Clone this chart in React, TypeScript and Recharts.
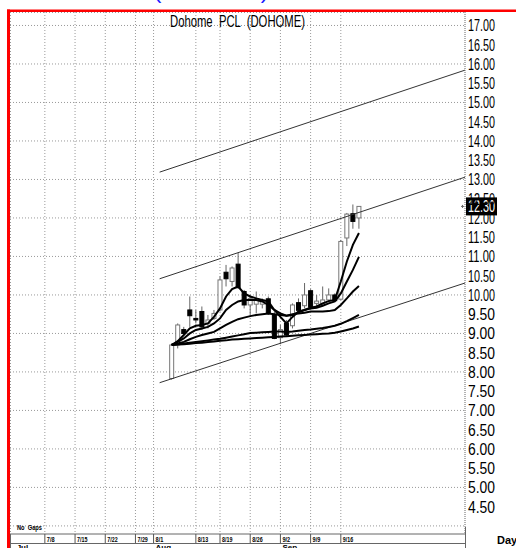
import {
  ComposedChart,
  Bar,
  Line,
  XAxis,
  YAxis,
  CartesianGrid,
  ReferenceLine,
} from "recharts";

// every weekday slot shown on the time axis (8/12 was a market holiday)
const sessions = [
  "7/1", "7/2", "7/3", "7/4", "7/5", "7/8", "7/9", "7/10", "7/11", "7/12",
  "7/15", "7/16", "7/17", "7/18", "7/19", "7/22", "7/23", "7/24", "7/25", "7/26",
  "7/29", "7/30", "7/31", "8/1", "8/2", "8/5", "8/6", "8/7", "8/8", "8/9",
  "8/13", "8/14", "8/15", "8/16", "8/19", "8/20", "8/21", "8/22", "8/23", "8/26",
  "8/27", "8/28", "8/29", "8/30", "9/2", "9/3", "9/4", "9/5", "9/6", "9/9",
  "9/10", "9/11", "9/12", "9/13", "9/16", "9/17", "9/18", "9/19",
];

const firstTradeDay = "8/6";

const open = [7.83, 8.7, 9.1, 9.61, 9.39, 9.57, 9.26, 9.39, 9.61, 10.59, 10.35, 10.8, 10.09, 9.74, 9.76, 9.76, 9.9, 9.48, 8.89, 9.26, 9.2, 9.8, 9.72, 10.11, 9.78, 9.78, 9.87, 10.0, 9.89, 11.48, 12.11, 12.0];
const close = [8.7, 9.22, 9.0, 9.46, 9.35, 9.17, 9.35, 9.52, 10.39, 10.42, 10.7, 10.19, 9.74, 9.91, 9.87, 9.84, 9.52, 8.87, 9.1, 8.96, 9.74, 9.6, 10.0, 9.68, 9.84, 9.87, 10.0, 9.85, 11.39, 12.1, 11.91, 12.3];
const high = [8.74, 9.26, 9.17, 9.96, 9.61, 9.7, 9.48, 9.61, 10.48, 10.78, 10.74, 11.09, 10.13, 10.0, 10.09, 9.91, 9.96, 9.57, 9.22, 9.35, 9.78, 9.91, 10.31, 10.15, 10.0, 10.22, 10.17, 10.04, 11.43, 12.13, 12.35, 12.3];
const low = [7.8, 8.61, 8.96, 9.17, 9.26, 9.09, 9.13, 9.35, 9.57, 10.22, 10.22, 10.16, 9.65, 9.48, 9.52, 9.65, 9.48, 8.85, 8.72, 8.91, 9.13, 9.52, 9.65, 9.65, 9.7, 9.74, 9.83, 9.83, 9.87, 11.27, 11.72, 11.72];

// moving averages, fastest to slowest
const maA = [8.7, 8.8, 8.96, 9.13, 9.2, 9.22, 9.26, 9.43, 9.65, 9.96, 10.15, 10.22, 10.04, 9.96, 9.91, 9.87, 9.83, 9.61, 9.43, 9.26, 9.43, 9.57, 9.61, 9.67, 9.7, 9.78, 9.84, 9.87, 10.35, 10.87, 11.3, 11.61];
const maB = [8.7, 8.78, 8.87, 9.0, 9.09, 9.13, 9.17, 9.26, 9.39, 9.61, 9.74, 9.83, 9.87, 9.87, 9.87, 9.83, 9.74, 9.61, 9.52, 9.46, 9.48, 9.55, 9.61, 9.65, 9.67, 9.72, 9.78, 9.83, 10.04, 10.35, 10.65, 10.99];
const maC = [8.7, 8.74, 8.78, 8.85, 8.91, 8.96, 9.0, 9.04, 9.13, 9.22, 9.3, 9.37, 9.41, 9.45, 9.48, 9.5, 9.52, 9.5, 9.48, 9.46, 9.5, 9.52, 9.54, 9.57, 9.57, 9.57, 9.58, 9.61, 9.74, 9.91, 10.09, 10.23];
const maD = [8.7, 8.72, 8.74, 8.76, 8.78, 8.8, 8.82, 8.84, 8.86, 8.89, 8.92, 8.95, 8.98, 9.01, 9.02, 9.03, 9.04, 9.05, 9.05, 9.04, 9.05, 9.07, 9.09, 9.1, 9.12, 9.14, 9.17, 9.2, 9.25, 9.32, 9.4, 9.48];
const maE = [8.7, 8.71, 8.72, 8.73, 8.75, 8.76, 8.78, 8.79, 8.81, 8.82, 8.84, 8.85, 8.86, 8.87, 8.88, 8.89, 8.9, 8.91, 8.92, 8.93, 8.94, 8.95, 8.96, 8.97, 8.98, 8.99, 9.0, 9.02, 9.05, 9.09, 9.13, 9.18];

// trend channel: value where it starts (8/2) and where it meets the price axis
const channelStart = "8/2";
const channelUpper = [13.19, 15.84];
const channelMiddle = [10.42, 13.06];
const channelLower = [7.72, 10.31];

const dateTicks = ["7/8", "7/15", "7/22", "7/29", "8/1", "8/13", "8/19", "8/26", "9/2", "9/9", "9/16"];
const monthStarts = ["7/1", "8/1", "9/2"];
const monthNames = ["Jul", "Aug", "Sep"];

const priceTicks = [4.5, 5, 5.5, 6, 6.5, 7, 7.5, 8, 8.5, 9, 9.5, 10, 10.5, 11, 11.5, 12, 12.5, 13, 13.5, 14, 14.5, 15, 15.5, 16, 16.5, 17];
const priceGrid = [4, 5, 6, 7, 8, 9, 10, 11, 12, 13, 14, 15, 16, 17];

const X_DOMAIN: [number, number] = [-0.77, 74.56];
const Y_DOMAIN: [number, number] = [3.79, 17.35];

const NARROW = "'Liberation Sans Narrow', 'Arial Narrow', 'Liberation Sans', Arial, sans-serif";

const startIdx = sessions.indexOf(firstTradeDay);
const data = open.map((o, i) => ({
  x: startIdx + i,
  open: o,
  close: close[i],
  high: high[i],
  low: low[i],
  maA: maA[i],
  maB: maB[i],
  maC: maC[i],
  maD: maD[i],
  maE: maE[i],
}));

const dateIdx = dateTicks.map((d) => sessions.indexOf(d));
const monthIdx = monthStarts.map((d) => sessions.indexOf(d));
const xTicks = Array.from(new Set([...monthIdx, ...dateIdx])).sort((a, b) => a - b);

const Candle = (props: any) => {
  const { x, y, width, height, payload } = props;
  const { open: o, close: c, high: h, low: l } = payload;
  const span = h - l || 1;
  const py = (v: number) => y + ((h - v) / span) * height;
  const cx = x + width / 2;
  const up = c >= o;
  const top = py(Math.max(o, c));
  const bot = py(Math.min(o, c));
  return (
    <g>
      <line x1={cx} x2={cx} y1={y} y2={y + height} stroke="#666" strokeWidth={1} />
      <rect
        x={x}
        y={top}
        width={width}
        height={Math.max(1, bot - top)}
        fill={up ? "#fff" : "#000"}
        stroke={up ? "#777" : "#000"}
        strokeWidth={1}
      />
    </g>
  );
};

const PriceTick = ({ x, y, payload }: any) => (
  <text
    x={x}
    y={y + 6}
    fontSize={16}
    fontFamily={NARROW}
    fill="#000"
    textLength={27}
    lengthAdjust="spacingAndGlyphs"
  >
    {Number(payload.value).toFixed(2)}
  </text>
);

const DateTick = ({ x, y, payload }: any) => {
  const v = payload.value;
  const di = dateIdx.indexOf(v);
  const mi = monthIdx.indexOf(v);
  return (
    <g>
      {di >= 0 && (
        <>
          <line x1={x} x2={x} y1={y} y2={y + 9} stroke="#555" />
          <text
            x={x + 2}
            y={y + 7.5}
            fontSize={7.5}
            fontWeight="bold"
            fontFamily={NARROW}
            fill="#000"
            textLength={dateTicks[di].length * 2.6}
            lengthAdjust="spacingAndGlyphs"
          >
            {dateTicks[di]}
          </text>
        </>
      )}
      {mi >= 0 && (
        <text x={x + 2} y={y + 16} fontSize={8} fontWeight="bold" fontFamily={NARROW} fill="#000">
          {monthNames[mi]}
        </text>
      )}
    </g>
  );
};

const PriceFlag = ({ viewBox }: any) => {
  const right = viewBox.x + viewBox.width;
  const cy = viewBox.y;
  return (
    <g>
      <line x1={right - 4} x2={right - 1} y1={cy} y2={cy} stroke="#666" />
      <line x1={right - 2.5} x2={right - 2.5} y1={cy - 1.5} y2={cy + 1.5} stroke="#666" />
      <rect x={right + 1} y={cy - 9} width={31} height={18} fill="#000" />
      <text
        x={right + 3}
        y={cy + 6}
        fontSize={16}
        fontFamily={NARROW}
        fill="#fff"
        textLength={27}
        lengthAdjust="spacingAndGlyphs"
      >
        {close[close.length - 1].toFixed(2)}
      </text>
    </g>
  );
};

const chIdx = sessions.indexOf(channelStart);
const channels = [channelUpper, channelMiddle, channelLower];
const maKeys = ["maA", "maB", "maC", "maD", "maE"];

export default function App() {
  return (
    <div style={{ position: "absolute", left: 0, top: 0, width: 516, height: 548, background: "#fff" }}>
      <ComposedChart
        width={516}
        height={548}
        data={data}
        margin={{ top: 12, right: 0, bottom: 0, left: 10 }}
      >
        <CartesianGrid
          stroke="#999"
          strokeDasharray="1 2"
          horizontalValues={priceGrid}
          verticalValues={dateIdx}
        />
        <XAxis
          dataKey="x"
          type="number"
          domain={X_DOMAIN}
          allowDataOverflow
          ticks={xTicks}
          interval={0}
          tick={<DateTick />}
          tickLine={false}
          tickSize={0}
          tickMargin={0}
          height={14}
          axisLine={{ stroke: "#666" }}
        />
        <YAxis
          orientation="right"
          type="number"
          domain={Y_DOMAIN}
          allowDataOverflow
          ticks={priceTicks}
          interval={0}
          tick={<PriceTick />}
          tickLine={false}
          tickSize={0}
          tickMargin={3}
          width={51}
          axisLine={{ stroke: "#666", strokeDasharray: "1 1" }}
        />
        {channels.map((c, i) => (
          <ReferenceLine
            key={i}
            segment={[
              { x: chIdx, y: c[0] },
              { x: X_DOMAIN[1], y: c[1] },
            ]}
            stroke="#333"
            strokeWidth={1}
          />
        ))}
        <Bar
          dataKey={(d: any) => [d.low, d.high]}
          barSize={4}
          shape={<Candle />}
          isAnimationActive={false}
        />
        {maKeys.map((k) => (
          <Line
            key={k}
            dataKey={k}
            type="linear"
            stroke="#000"
            strokeWidth={2}
            dot={false}
            activeDot={false}
            isAnimationActive={false}
          />
        ))}
        <ReferenceLine y={close[close.length - 1]} stroke="none" label={<PriceFlag />} />
      </ComposedChart>
      <svg
        width={516}
        height={548}
        style={{ position: "absolute", left: 0, top: 0, pointerEvents: "none" }}
      >
        <text
          x={211}
          y={-1.5}
          textAnchor="middle"
          fontSize={20}
          fontFamily="'Liberation Sans', Arial, sans-serif"
          fill="#1a1aff"
          textLength={114}
          lengthAdjust="spacingAndGlyphs"
        >
          (DOHOME)
        </text>
        <rect x={7} y={9.5} width={509} height={2.5} fill="#f00" />
        <rect x={7} y={9.5} width={3} height={539} fill="#f00" />
        <line x1={10} x2={465} y1={12.5} y2={12.5} stroke="#999" strokeDasharray="1 2" />
        <line x1={10.5} x2={10.5} y1={12} y2={534} stroke="#999" strokeDasharray="1 2" />
        <line x1={10.5} x2={10.5} y1={534} y2={548} stroke="#666" />
        <line x1={10} x2={465} y1={543.5} y2={543.5} stroke="#666" />
        <line x1={465.5} x2={465.5} y1={527} y2={548} stroke="#666" />
        <text
          x={170}
          y={27}
          fontSize={17}
          fontFamily={NARROW}
          fill="#000"
          textLength={135}
          lengthAdjust="spacingAndGlyphs"
          style={{ whiteSpace: "pre" }}
        >
          {"Dohome  PCL  (DOHOME)"}
        </text>
        <text
          x={17}
          y={530}
          fontSize={8}
          fontWeight="bold"
          fontFamily={NARROW}
          fill="#000"
          textLength={25}
          lengthAdjust="spacingAndGlyphs"
          style={{ whiteSpace: "pre" }}
        >
          {"No  Gaps"}
        </text>
        <text x={497} y={544} fontSize={11} fontWeight="bold" fontFamily={NARROW} fill="#000">
          Day
        </text>
      </svg>
    </div>
  );
}
